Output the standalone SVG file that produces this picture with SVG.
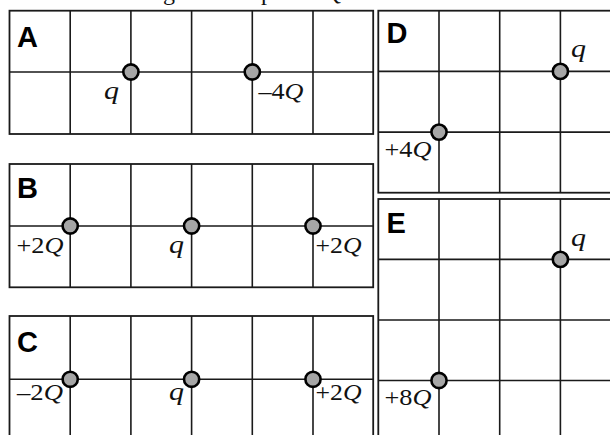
<svg xmlns="http://www.w3.org/2000/svg" width="610" height="435" viewBox="0 0 610 435">
<style>
.grid{fill:none;stroke:#1a1a1a;stroke-width:1.6}
.frame{fill:#fff;stroke:#1a1a1a;stroke-width:1.8}
.chg{fill:#a6a6a6;stroke:#000;stroke-width:2.6}
.lbl{font-family:"Liberation Serif","Times New Roman",serif;font-size:24px;fill:#111}
.it{font-style:italic}
.q{font-size:25px}
.ttl{font-family:"Liberation Sans",Arial,sans-serif;font-weight:bold;font-size:29px;fill:#000}
</style>
<rect width="610" height="435" fill="#fff"/>
<g id="header-fragment" class="lbl">
<text x="163" y="0">g</text>
<text x="261" y="0">p</text>
<text x="326" y="0" class="it">Q</text>
</g>
<g id="panel-A">
<rect class="frame" x="9.5" y="10.7" width="363.7" height="123.3"/>
<path class="grid" d="M70.2 10.7V134M130.9 10.7V134M191.6 10.7V134M252.3 10.7V134M313 10.7V134M9.5 72H373.2"/>
<text class="ttl" x="17" y="47">A</text>
<g id="A-q"><circle class="chg" cx="130.9" cy="72" r="7.6"/><text class="lbl it q" x="104" y="99" textLength="15" lengthAdjust="spacingAndGlyphs">q</text></g>
<g id="A-m4Q"><circle class="chg" cx="252.3" cy="72" r="7.6"/><text class="lbl" x="258.5" y="99" textLength="45" lengthAdjust="spacingAndGlyphs">–4<tspan class="it">Q</tspan></text></g>
</g>
<g id="panel-B">
<rect class="frame" x="9.5" y="164" width="363.7" height="123.3"/>
<path class="grid" d="M70.2 164V287.3M130.9 164V287.3M191.6 164V287.3M252.3 164V287.3M313 164V287.3M9.5 226H373.2"/>
<text class="ttl" x="17" y="197.5">B</text>
<g id="B-p2Q-left"><circle class="chg" cx="70.2" cy="226" r="7.6"/><text class="lbl" x="16.5" y="253" textLength="47" lengthAdjust="spacingAndGlyphs">+2<tspan class="it">Q</tspan></text></g>
<g id="B-q"><circle class="chg" cx="191.6" cy="226" r="7.6"/><text class="lbl it q" x="169" y="253" textLength="15" lengthAdjust="spacingAndGlyphs">q</text></g>
<g id="B-p2Q-right"><circle class="chg" cx="313" cy="226" r="7.6"/><text class="lbl" x="315.5" y="253" textLength="46" lengthAdjust="spacingAndGlyphs">+2<tspan class="it">Q</tspan></text></g>
</g>
<g id="panel-C">
<rect class="frame" x="9.5" y="316" width="363.7" height="140"/>
<path class="grid" d="M70.2 316V440M130.9 316V440M191.6 316V440M252.3 316V440M313 316V440M9.5 379.3H373.2"/>
<text class="ttl" x="17" y="351.5">C</text>
<g id="C-m2Q"><circle class="chg" cx="70.2" cy="379.3" r="7.6"/><text class="lbl" x="17" y="400" textLength="46" lengthAdjust="spacingAndGlyphs">–2<tspan class="it">Q</tspan></text></g>
<g id="C-q"><circle class="chg" cx="191.6" cy="379.3" r="7.6"/><text class="lbl it q" x="169" y="400" textLength="15" lengthAdjust="spacingAndGlyphs">q</text></g>
<g id="C-p2Q"><circle class="chg" cx="313" cy="379.3" r="7.6"/><text class="lbl" x="315.5" y="400" textLength="46" lengthAdjust="spacingAndGlyphs">+2<tspan class="it">Q</tspan></text></g>
</g>
<g id="panel-D">
<rect class="frame" x="378.3" y="10.7" width="260" height="182"/>
<path class="grid" d="M439 10.7V192.7M499.7 10.7V192.7M560.4 10.7V192.7M378.3 71.4H620M378.3 132.1H620"/>
<text class="ttl" x="386.5" y="43.3">D</text>
<g id="D-q"><circle class="chg" cx="560.4" cy="71.4" r="7.6"/><text class="lbl it q" x="571" y="57" textLength="15" lengthAdjust="spacingAndGlyphs">q</text></g>
<g id="D-p4Q"><circle class="chg" cx="439" cy="132.1" r="7.6"/><text class="lbl" x="384.5" y="156.7" textLength="47" lengthAdjust="spacingAndGlyphs">+4<tspan class="it">Q</tspan></text></g>
</g>
<g id="panel-E">
<rect class="frame" x="378.3" y="199" width="260" height="260"/>
<path class="grid" d="M439 199V440M499.7 199V440M560.4 199V440M378.3 259.4H620M378.3 320H620M378.3 380.5H620"/>
<text class="ttl" x="386.5" y="233">E</text>
<g id="E-q"><circle class="chg" cx="560.4" cy="259.4" r="7.6"/><text class="lbl it q" x="571" y="245.5" textLength="15" lengthAdjust="spacingAndGlyphs">q</text></g>
<g id="E-p8Q"><circle class="chg" cx="439" cy="380.5" r="7.6"/><text class="lbl" x="384.5" y="405" textLength="47" lengthAdjust="spacingAndGlyphs">+8<tspan class="it">Q</tspan></text></g>
</g>
</svg>
